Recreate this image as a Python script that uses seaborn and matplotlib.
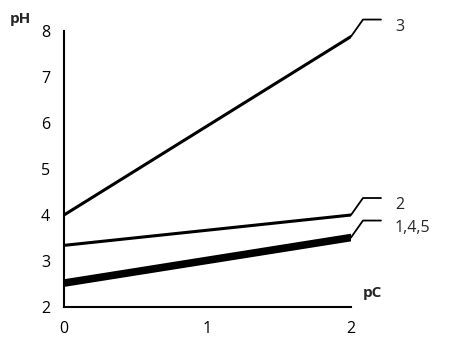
import numpy as np
import pandas as pd
import matplotlib
matplotlib.use('Agg')
import matplotlib.pyplot as plt
import seaborn as sns

sns.set_style('white')
plt.rcParams['font.family'] = ['Open Sans', 'DejaVu Sans']

# data
pc = [0, 2]
curve_names = ['3', '2', '1', '4', '5']
curve_start = [4.0, 3.34, 2.47, 2.52, 2.57]
curve_end = [7.88, 4.0, 3.46, 3.51, 3.56]
labels = ['3', '2', '1,4,5']
label_curve = ['3', '2', '4']

rows = []
for name, a, b in zip(curve_names, curve_start, curve_end):
    rows.append({'curve': name, 'pC': pc[0], 'pH': a})
    rows.append({'curve': name, 'pC': pc[1], 'pH': b})
df = pd.DataFrame(rows)

fig = plt.figure(figsize=(4.72, 3.41), dpi=100)
ax = fig.add_axes([0.1356, 0.0997, 0.608, 0.8093])

sns.lineplot(data=df, x='pC', y='pH', units='curve', estimator=None,
             color='black', linewidth=2.2, ax=ax, legend=False)

ax.set_xlim(0, 2)
ax.set_ylim(2, 8)
ax.set_xticks([0, 1, 2])
ax.set_yticks(range(2, 9))
ax.set_xlabel('')
ax.set_ylabel('')
for s in ['top', 'right']:
    ax.spines[s].set_visible(False)
for s in ['left', 'bottom']:
    ax.spines[s].set_color('black')
    ax.spines[s].set_linewidth(1.5)
ax.tick_params(axis='both', direction='out', length=4, width=1.3,
               colors='black', labelsize=11.5, pad=6)

# axis names
ax.text(-0.38, 8.12, 'pH', fontsize=11, fontweight='bold', ha='left', va='bottom')
ax.text(2.08, 2.3, 'pC', fontsize=11, fontweight='bold', ha='left', va='center')

# leader lines and curve labels (offsets in pixels)
ends = dict(zip(curve_names, curve_end))
for lab, cname in zip(labels, label_curve):
    y = ends[cname]
    base = ax.transData.transform((2, y))
    pts = np.array([[0, 0], [12, 17], [30, 17]]) + base
    ax.plot(pts[:, 0], pts[:, 1], color='black', linewidth=1.3,
            transform=None, clip_on=False)
    ax.annotate(lab, xy=(2, y), xytext=(44 * 0.72, 6 * 0.72),
                textcoords='offset points', fontsize=11.5, ha='left', va='baseline')

fig.savefig('out.png', dpi=100)
